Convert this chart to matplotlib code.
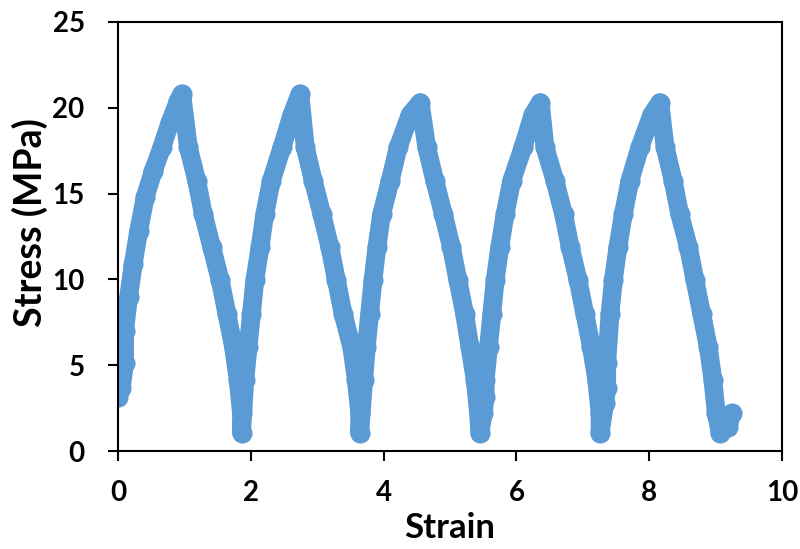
import matplotlib
matplotlib.use("Agg")
import matplotlib.pyplot as plt

plt.rcParams['font.family'] = ['Lato', 'DejaVu Sans']
plt.rcParams['font.weight'] = 'bold'

# Stress-strain cyclic test
strain = [
    # cycle 1 loading
    0.00, 0.05, 0.10, 0.10, 0.16, 0.23, 0.31, 0.41, 0.53, 0.66, 0.78, 0.91, 0.96,
    # cycle 1 unloading
    1.06, 1.185, 1.285, 1.41, 1.54, 1.64, 1.74, 1.81, 1.86, 1.86,
    # cycle 2 loading
    1.91, 1.96, 2.01, 2.06, 2.14, 2.21, 2.31, 2.47, 2.62, 2.74,
    # cycle 2 unloading
    2.82, 2.94, 3.07, 3.19, 3.29, 3.39, 3.52, 3.59, 3.64, 3.64,
    # cycle 3 loading
    3.70, 3.74, 3.79, 3.84, 3.90, 3.97, 4.10, 4.22, 4.40, 4.55,
    # cycle 3 unloading
    4.65, 4.77, 4.90, 5.02, 5.12, 5.22, 5.30, 5.38, 5.43, 5.45, 5.50, 5.53,
    # cycle 4 loading
    5.53, 5.58, 5.63, 5.68, 5.75, 5.83, 5.93, 6.10, 6.25, 6.36,
    # cycle 4 unloading
    6.43, 6.58, 6.71, 6.81, 6.93, 7.03, 7.13, 7.21, 7.26, 7.26, 7.33, 7.36,
    # cycle 5 loading
    7.36, 7.41, 7.46, 7.53, 7.61, 7.71, 7.86, 8.04, 8.16,
    # cycle 5 unloading
    8.24, 8.36, 8.46, 8.59, 8.69, 8.79, 8.89, 8.96, 9.01, 9.07, 9.19, 9.24,
]
stress = [
    3.15, 3.70, 5.10, 7.00, 9.00, 10.9, 12.8, 14.8, 16.3, 17.7, 19.1, 20.4, 20.8,
    17.7, 15.76, 13.8, 11.9, 9.94, 8.00, 6.06, 4.13, 2.19, 1.05,
    4.13, 6.06, 8.00, 9.94, 11.9, 13.8, 15.76, 17.7, 19.6, 20.8,
    17.7, 15.76, 13.8, 11.9, 9.94, 8.00, 6.06, 4.13, 2.19, 1.05,
    4.13, 6.06, 8.00, 9.94, 11.9, 13.8, 15.76, 17.7, 19.6, 20.3,
    17.7, 15.76, 13.8, 11.9, 9.94, 8.00, 6.06, 4.13, 2.19, 1.03, 2.19, 3.16,
    4.13, 6.06, 8.00, 9.94, 11.9, 13.8, 15.76, 17.7, 19.6, 20.3,
    17.7, 15.76, 13.8, 11.9, 9.94, 8.00, 6.06, 4.13, 2.19, 1.03, 2.77, 3.70,
    5.10, 8.00, 9.94, 11.9, 13.8, 15.76, 17.7, 19.6, 20.3,
    17.7, 15.76, 13.8, 11.9, 9.94, 8.00, 6.06, 4.13, 2.19, 1.07, 1.40, 2.19,
]
x_ticks = [0, 2, 4, 6, 8, 10]
y_ticks = [0, 5, 10, 15, 20, 25]

fig = plt.figure(figsize=(8.0, 5.49), dpi=100)
ax = fig.add_axes([118/800, 1 - 451/549, (782 - 118)/800, (451 - 22)/549])

color = '#5B9BD5'
ax.plot(strain, stress, '-o', color=color, lw=13.5, ms=13.5,
        solid_joinstyle='round', solid_capstyle='round', mec=color, mfc=color)

ax.set_xlim(0, 10)
ax.set_ylim(0, 25)
ax.set_xticks(x_ticks)
ax.set_yticks(y_ticks)
ax.tick_params(axis='both', direction='out', length=7, width=1.5,
               labelsize=20, top=False, right=False)
ax.tick_params(axis='y', pad=17)
ax.tick_params(axis='x', pad=14)
for s in ax.spines.values():
    s.set_linewidth(1.5)
    s.set_color('black')

ax.set_xlabel('Strain', fontsize=25, fontweight='bold')
ax.set_ylabel('Stress (MPa)', fontsize=27, fontweight='bold')
ax.xaxis.set_label_coords(0.5, -0.143)
ax.yaxis.set_label_coords(-0.105, 0.533)
for lbl in ax.get_xticklabels() + ax.get_yticklabels():
    lbl.set_fontweight('bold')

fig.savefig('out.png', dpi=100)
